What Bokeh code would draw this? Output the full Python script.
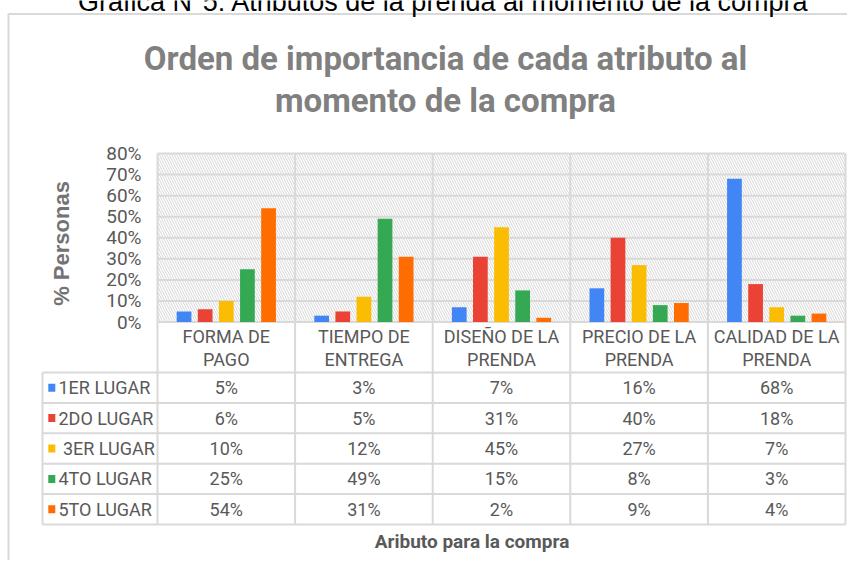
import math
from bokeh.plotting import figure
from bokeh.models import Range1d
from bokeh.core.properties import value
from bokeh.embed import file_html
from bokeh.resources import INLINE

# ---------------- data ----------------
caption = "Gráfica N°5: Atributos de la prenda al momento de la compra"
title_lines = ["Orden de importancia de cada atributo al", "momento de la compra"]
y_title = "% Personas"
x_title = "Aributo para la compra"
categories = ["FORMA DE PAGO", "TIEMPO DE ENTREGA", "DISEÑO DE LA PRENDA",
              "PRECIO DE LA PRENDA", "CALIDAD DE LA PRENDA"]
series_names = ["1ER LUGAR", "2DO LUGAR", "\u00a03ER LUGAR", "4TO LUGAR", "5TO LUGAR"]
first_place = [5, 3, 7, 16, 68]
second_place = [6, 5, 31, 40, 18]
third_place = [10, 12, 45, 27, 7]
fourth_place = [25, 49, 15, 8, 3]
fifth_place = [54, 31, 2, 9, 4]
series_values = [first_place, second_place, third_place, fourth_place, fifth_place]
series_colors = ["#4285F4", "#EA4335", "#FBBC04", "#34A853", "#FF6D01"]
y_ticks = [0, 10, 20, 30, 40, 50, 60, 70, 80]
y_tick_labels = [f"{t}%" for t in y_ticks]

# ---------------- layout ----------------
W, H = 847, 560
PL = 157.0          # plot-area left (px)
CW = 137.6          # category width (px)
Y0 = 321.5          # 0% line (px from top)
YPP = 2.106         # px per percent
HDR_B = 372.0       # bottom of category header row
ROW_H = 30.4
TBL_L = 42.0
GRID = "#d9d9d9"
TXT = "#595959"
FONT = "Roboto"
SANS = "Liberation Sans"

n = len(categories)
PR = PL + n * CW

p = figure(width=W, height=H,
           x_range=Range1d(-PL / CW, (W - PL) / CW),
           y_range=Range1d(-(H - Y0) / YPP, Y0 / YPP),
           output_backend="svg", toolbar_location=None, tools="",
           x_axis_location=None, y_axis_location=None, min_border=0)
p.extra_x_ranges = {"px": Range1d(0, W)}
p.extra_y_ranges = {"py": Range1d(H, 0)}
p.outline_line_color = None
p.background_fill_color = "white"
p.border_fill_color = "white"
p.xgrid.visible = False
p.ygrid.visible = False

# outer frame
p.segment(x0=[8, 8], y0=[13.5, 13], x1=[W, 8], y1=[13.5, H],
          line_color=GRID, line_width=2, x_range_name="px", y_range_name="py")

# caption (cut off at top in the original)
p.text(x=[443], y=[1.5], text=[caption], text_align="center", text_baseline="middle",
       text_font=value(SANS), text_font_size="27px", text_color="#000000",
       x_range_name="px", y_range_name="py")

# title
p.text(x=[445, 445], y=[57.5, 99.5], text=title_lines, text_align="center",
       text_baseline="middle", text_font=value(FONT), text_font_style="bold",
       text_font_size="33px", text_color="#808080",
       x_range_name="px", y_range_name="py")

# hatched plot background
p.quad(left=[0], right=[n], bottom=[y_ticks[0]], top=[y_ticks[-1]],
       fill_color="white", line_color=None, hatch_pattern="\\",
       hatch_color="#d6d6d6", hatch_scale=5, hatch_weight=1)

# horizontal gridlines
p.segment(x0=[0] * len(y_ticks), x1=[n] * len(y_ticks), y0=y_ticks, y1=y_ticks,
          line_color=GRID, line_width=2)

# vertical separators (plot + table)
top_px = Y0 - y_ticks[-1] * YPP
bottom_px = HDR_B + len(series_names) * ROW_H
xs = list(range(n + 1))
p.segment(x0=xs, x1=xs, y0=[top_px] * len(xs), y1=[bottom_px] * len(xs),
          line_color=GRID, line_width=2, y_range_name="py")

# table horizontal lines
rows_y = [HDR_B + k * ROW_H for k in range(len(series_names) + 1)]
p.segment(x0=[TBL_L] * len(rows_y), x1=[PR] * len(rows_y), y0=rows_y, y1=rows_y,
          line_color=GRID, line_width=2, x_range_name="px", y_range_name="py")
p.segment(x0=[TBL_L], x1=[TBL_L], y0=[HDR_B], y1=[bottom_px],
          line_color=GRID, line_width=2, x_range_name="px", y_range_name="py")

# bars
step = 0.1535
bw = 0.107
for j, (vals, col) in enumerate(zip(series_values, series_colors)):
    off = (j - 2) * step
    p.vbar(x=[i + 0.5 + off for i in range(n)], top=vals, bottom=0, width=bw,
           fill_color=col, line_color=None)

# y tick labels
p.text(x=[141] * len(y_ticks), y=y_ticks, text=y_tick_labels, text_align="right",
       text_baseline="middle", text_font=value(FONT), text_font_size="19px",
       text_color=TXT, x_range_name="px")

# y axis title
p.text(x=[61], y=[243], text=[y_title], angle=math.pi / 2, text_align="center",
       text_baseline="middle", text_font=value(SANS), text_font_style="bold",
       text_font_size="22px", text_color="#737373",
       x_range_name="px", y_range_name="py")

# category header labels
line1 = [c.rsplit(" ", 1)[0] for c in categories]
line2 = [c.rsplit(" ", 1)[1] for c in categories]
cx = [i + 0.5 for i in range(n)]
p.text(x=cx, y=[335.5] * n, text=line1, text_align="center", text_baseline="middle",
       text_font=value(FONT), text_font_size="18px", text_color=TXT, y_range_name="py")
p.text(x=cx, y=[359] * n, text=line2, text_align="center", text_baseline="middle",
       text_font=value(FONT), text_font_size="18px", text_color=TXT, y_range_name="py")

# table rows
row_c = [HDR_B + (k + 0.5) * ROW_H for k in range(len(series_names))]
p.rect(x=[51.3] * len(row_c), y=row_c, width=7, height=8, fill_color=series_colors,
       line_color=None, x_range_name="px", y_range_name="py")
p.text(x=[58] * len(row_c), y=row_c, text=series_names, text_align="left",
       text_baseline="middle", text_font=value(FONT), text_font_size="18px",
       text_color=TXT, x_range_name="px", y_range_name="py")
for k, vals in enumerate(series_values):
    p.text(x=cx, y=[row_c[k]] * n, text=[f"{v}%" for v in vals], text_align="center",
           text_baseline="middle", text_font=value(FONT), text_font_size="18px",
           text_color=TXT, y_range_name="py")

# x axis title
p.text(x=[471.5], y=[541], text=[x_title], text_align="center", text_baseline="middle",
       text_font=value(FONT), text_font_style="bold", text_font_size="19px",
       text_color=TXT, x_range_name="px", y_range_name="py")

open("out.html", "w").write(file_html(p, INLINE))
